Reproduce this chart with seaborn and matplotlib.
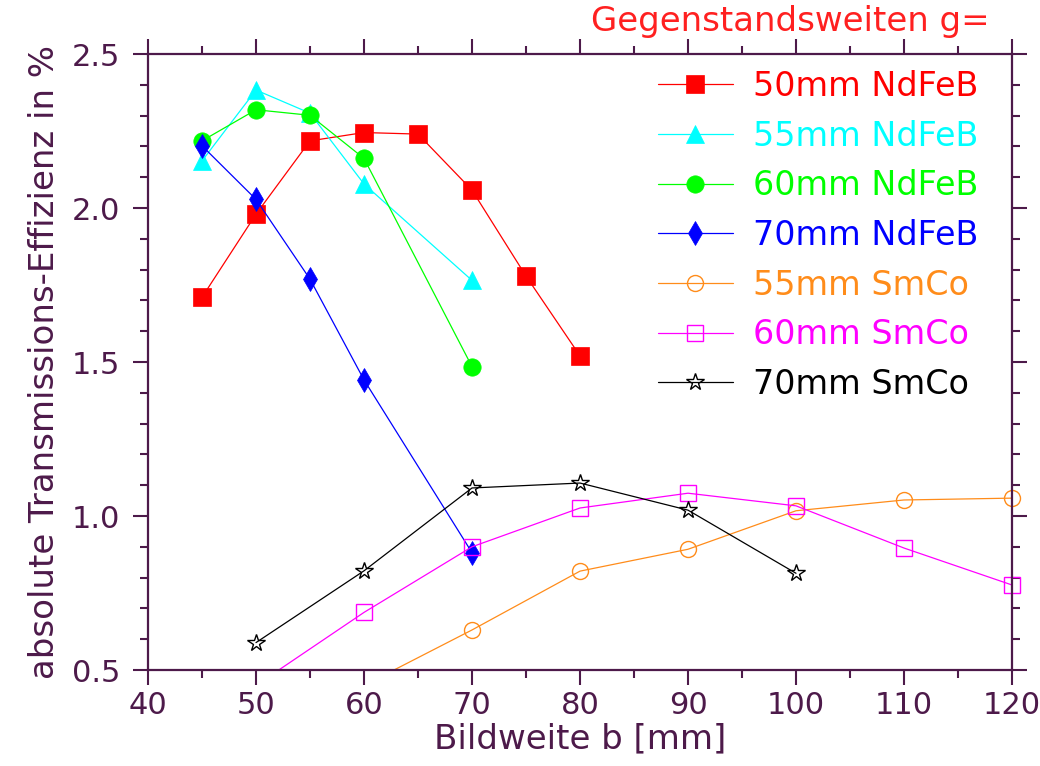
import matplotlib
matplotlib.use('Agg')
import matplotlib.pyplot as plt
from matplotlib.patches import Rectangle
from matplotlib.ticker import MultipleLocator
import pandas as pd
import seaborn as sns

sns.set_style('ticks')
plt.rcParams['font.family'] = ['DejaVu Sans']

# ---------------- data ----------------
labels = ['50mm NdFeB', '55mm NdFeB', '60mm NdFeB', '70mm NdFeB',
          '55mm SmCo', '60mm SmCo', '70mm SmCo']

x_50_ndfeb = [45, 50, 55, 60, 65, 70, 75, 80]
y_50_ndfeb = [1.710, 1.980, 2.218, 2.245, 2.240, 2.058, 1.779, 1.520]

x_55_ndfeb = [45, 50, 55, 60, 70]
y_55_ndfeb = [2.153, 2.383, 2.308, 2.078, 1.765]

x_60_ndfeb = [45, 50, 55, 60, 70]
y_60_ndfeb = [2.218, 2.319, 2.301, 2.161, 1.485]

x_70_ndfeb = [45, 50, 55, 60, 70]
y_70_ndfeb = [2.202, 2.028, 1.769, 1.442, 0.881]

x_55_smco = [60, 70, 80, 90, 100, 110, 120]
y_55_smco = [0.45, 0.630, 0.821, 0.892, 1.017, 1.052, 1.058]

x_60_smco = [50, 60, 70, 80, 90, 100, 110, 120]
y_60_smco = [0.45, 0.687, 0.900, 1.026, 1.074, 1.033, 0.896, 0.776]

x_70_smco = [50, 60, 70, 80, 90, 100]
y_70_smco = [0.589, 0.822, 1.091, 1.107, 1.019, 0.814]

xs = [x_50_ndfeb, x_55_ndfeb, x_60_ndfeb, x_70_ndfeb, x_55_smco, x_60_smco, x_70_smco]
ys = [y_50_ndfeb, y_55_ndfeb, y_60_ndfeb, y_70_ndfeb, y_55_smco, y_60_smco, y_70_smco]

x_ticks = [40, 50, 60, 70, 80, 90, 100, 110, 120]
y_ticks = [0.5, 1.0, 1.5, 2.0, 2.5]
y_ticklabels = ['0.5', '1.0', '1.5', '2.0', '2.5']

# ---------------- styles ----------------
colors = ['#ff0000', '#00ffff', '#00ff00', '#0000ff', '#ff8c1a', '#ff00ff', '#000000']
markers = ['s', '^', 'o', 'd', 'o', 's', '*']
msizes = [12.5, 13.5, 12.5, 12.0, 11.5, 11.5, 13.0]
filled = [True, True, True, True, False, False, False]
axis_col = '#4d1a4a'

fig = plt.figure(figsize=(10.4, 7.66), dpi=100)
ax = fig.add_axes([148 / 1040, 96 / 766, 864 / 1040, 616 / 766])

clip_rect = Rectangle((-0.05, 0.0), 1.1, 1.1, transform=ax.transAxes)

for lab, x, y, c, m, ms, f in zip(labels, xs, ys, colors, markers, msizes, filled):
    df = pd.DataFrame({'x': x, 'y': y})
    sns.lineplot(data=df, x='x', y='y', ax=ax, color=c, linewidth=0.9,
                 marker=m, markersize=ms,
                 markerfacecolor=(c if f else 'none'),
                 markeredgecolor=c, markeredgewidth=(0.5 if f else 1.0),
                 label=lab, estimator=None)

for ln in ax.get_lines():
    ln.set_clip_path(clip_rect)

ax.set_xlim(40, 120)
ax.set_ylim(0.5, 2.5)
ax.set_xticks(x_ticks)
ax.set_yticks(y_ticks)
ax.set_yticklabels(y_ticklabels)
ax.xaxis.set_minor_locator(MultipleLocator(5))
ax.yaxis.set_minor_locator(MultipleLocator(0.1))

ax.tick_params(which='both', direction='out', top=True, right=True,
               bottom=True, left=True, color=axis_col, width=1.5,
               labelcolor=axis_col, labelsize=22)
ax.tick_params(which='major', length=11)
ax.tick_params(which='minor', length=6)
ax.tick_params(axis='x', which='major', pad=4)
ax.tick_params(axis='y', which='major', pad=9)

for sp in ax.spines.values():
    sp.set_color(axis_col)
    sp.set_linewidth(1.6)
    sp.set_visible(True)

ax.set_xlabel('Bildweite b [mm]', fontsize=24.5, color=axis_col, labelpad=2)
ax.set_ylabel('absolute Transmissions-Effizienz in %', fontsize=24.5,
              color=axis_col, labelpad=8)

leg = ax.legend(loc='upper right', bbox_to_anchor=(978 / 1040, 1 - 70 / 766),
                bbox_transform=fig.transFigure, frameon=False, fontsize=24,
                labelcolor='linecolor', handlelength=2.25, handletextpad=0.6,
                labelspacing=0.5, borderpad=0, borderaxespad=0)

fig.text(990 / 1040, 1 - 22 / 766, 'Gegenstandsweiten g=', ha='right',
         va='center', color='#ff2020', fontsize=24.5)

fig.savefig('out.png', dpi=100)
